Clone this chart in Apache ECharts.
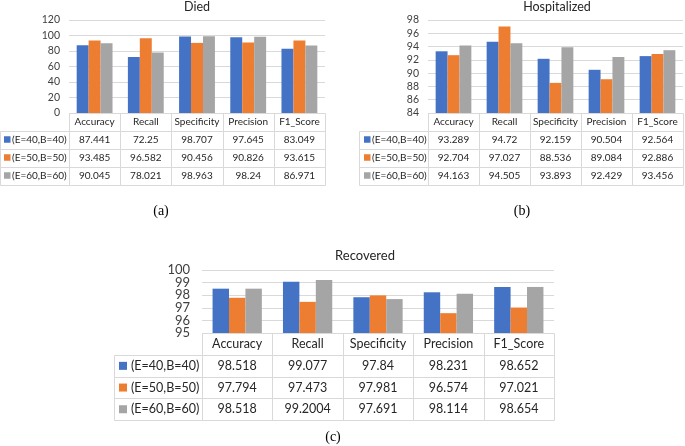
<!DOCTYPE html>
<html>
<head>
<meta charset="utf-8">
<script src="https://cdn.jsdelivr.net/npm/echarts@6/dist/echarts.min.js"></script>
<style>
  html, body { margin: 0; padding: 0; background: #fff; }
  #main { width: 685px; height: 446px; }
</style>
</head>
<body>
<div id="main"></div>
<script>
// data
var categories = ['Accuracy', 'Recall', 'Specificity', 'Precision', 'F1_Score'];
var configs = ['(E=40,B=40)', '(E=50,B=50)', '(E=60,B=60)'];
var titles = ['Died', 'Hospitalized', 'Recovered'];
var captions = ['(a)', '(b)', '(c)'];

var diedE40 = [87.441, 72.25, 98.707, 97.645, 83.049];
var diedE50 = [93.485, 96.582, 90.456, 90.826, 93.615];
var diedE60 = [90.045, 78.021, 98.963, 98.24, 86.971];

var hospE40 = [93.289, 94.72, 92.159, 90.504, 92.564];
var hospE50 = [92.704, 97.027, 88.536, 89.084, 92.886];
var hospE60 = [94.163, 94.505, 93.893, 92.429, 93.456];

var recE40 = [98.518, 99.077, 97.84, 98.231, 98.652];
var recE50 = [97.794, 97.473, 97.981, 96.574, 97.021];
var recE60 = [98.518, 99.2004, 97.691, 98.114, 98.654];

// [min, max, step] of each value axis
var diedAxis = [0, 120, 20];
var hospAxis = [84, 98, 2];
var recAxis = [95, 100, 1];

var panelData = [
    [diedE40, diedE50, diedE60],
    [hospE40, hospE50, hospE60],
    [recE40, recE50, recE60]
];
var panelAxis = [diedAxis, hospAxis, recAxis];

// layout / style
var colors = ['#4472C4', '#ED7D31', '#A5A5A5'];
var border = '#D9D9D9';
var textColor = '#262626';
var layout = [
    { left: 69, top: 20, width: 256, height: 93, legendLeft: 0, headH: 17.5, rowH: 18,
      font: 10, axisFont: 10.5, axisMargin: 9, titleFont: 12.5, titleX: 197, titleY: 0,
      sq: 6.5, sqX: 4, txtX: 12, capX: 161, capY: 211, tight: false },
    { left: 428, top: 20, width: 255, height: 93, legendLeft: 359, headH: 17.5, rowH: 18,
      font: 10, axisFont: 10.5, axisMargin: 9, titleFont: 12.5, titleX: 557, titleY: 0,
      sq: 6.5, sqX: 5, txtX: 13, capX: 522, capY: 211, tight: false },
    { left: 202, top: 270, width: 352, height: 63, legendLeft: 114, headH: 22, rowH: 21.7,
      font: 12.5, axisFont: 13, axisMargin: 12, titleFont: 13, titleX: 365, titleY: 249,
      sq: 8, sqX: 5, txtX: 17, capX: 333, capY: 437, tight: true }
];

function px(v) { return Math.round(v) + 0.5; }

var grids = [], xAxes = [], yAxes = [], extraY = [], series = [], titleList = [], graphics = [];

layout.forEach(function (L, p) {
    var ax = panelAxis[p];
    var labelStyle = { fontSize: L.axisFont, color: '#404040', fontFamily: 'Lato',
                       margin: L.axisMargin };
    grids.push({ left: L.left, top: L.top, width: L.width, height: L.height });
    xAxes.push({
        type: 'category', gridIndex: p, data: categories,
        axisLine: { show: false }, axisTick: { show: false },
        axisLabel: { margin: L.headH / 2, verticalAlign: 'middle', fontSize: L.font,
                     color: textColor, fontFamily: 'Lato', interval: 0 }
    });
    yAxes.push({
        type: 'value', gridIndex: p, min: ax[0], max: ax[1], interval: ax[2],
        axisLine: { show: false }, axisTick: { show: false },
        axisLabel: Object.assign({}, labelStyle,
            L.tight ? { showMinLabel: false, showMaxLabel: false } : {}),
        splitLine: { lineStyle: { color: border, width: 1 } }
    });
    if (L.tight) {
        // the labels are closer than their own height here: the end labels
        // go on a second axis so neither set hides the other
        extraY.push({
            type: 'value', gridIndex: p, min: ax[0], max: ax[1], interval: ax[1] - ax[0],
            position: 'left', axisLine: { show: false }, axisTick: { show: false },
            splitLine: { show: false }, axisLabel: labelStyle
        });
    }
    panelData[p].forEach(function (vals, s) {
        series.push({
            type: 'bar', name: configs[s], xAxisIndex: p, yAxisIndex: p,
            data: vals, barGap: 0, barCategoryGap: '30%',
            itemStyle: { color: colors[s] }
        });
    });
    titleList.push({
        text: titles[p], left: L.titleX, top: L.titleY, textAlign: 'center', padding: 0,
        textStyle: { fontSize: L.titleFont, fontWeight: 'normal', color: '#262626', fontFamily: 'Lato' }
    });

    // data table under the plot
    var bottom = L.top + L.height;
    var cw = L.width / categories.length;
    categories.forEach(function (c, i) {
        var x0 = px(L.left + i * cw), x1 = px(L.left + (i + 1) * cw);
        graphics.push({ type: 'rect', silent: true,
            shape: { x: x0, y: px(bottom), width: x1 - x0, height: Math.round(L.headH) },
            style: { fill: 'none', stroke: border, lineWidth: 1 } });
    });
    configs.forEach(function (name, r) {
        var y0 = bottom + L.headH + r * L.rowH;
        var y0p = px(y0), y1p = px(y0 + L.rowH);
        var lx0 = px(L.legendLeft), lx1 = px(L.left);
        graphics.push({ type: 'rect', silent: true,
            shape: { x: lx0, y: y0p, width: lx1 - lx0, height: y1p - y0p },
            style: { fill: 'none', stroke: border, lineWidth: 1 } });
        graphics.push({ type: 'rect', silent: true,
            shape: { x: L.legendLeft + L.sqX, y: y0 + L.rowH / 2 - L.sq / 2, width: L.sq, height: L.sq },
            style: { fill: colors[r] } });
        graphics.push({ type: 'text', silent: true,
            style: { x: L.legendLeft + L.txtX, y: y0 + L.rowH / 2, text: name,
                     fontSize: L.font, fontFamily: 'Lato', fill: textColor,
                     align: 'left', verticalAlign: 'middle' } });
        panelData[p][r].forEach(function (v, i) {
            var x0 = px(L.left + i * cw), x1 = px(L.left + (i + 1) * cw);
            graphics.push({ type: 'rect', silent: true,
                shape: { x: x0, y: y0p, width: x1 - x0, height: y1p - y0p },
                style: { fill: 'none', stroke: border, lineWidth: 1 } });
            graphics.push({ type: 'text', silent: true,
                style: { x: L.left + (i + 0.5) * cw, y: y0 + L.rowH / 2, text: String(v),
                         fontSize: L.font, fontFamily: 'Lato', fill: textColor,
                         align: 'center', verticalAlign: 'middle' } });
        });
    });
    graphics.push({ type: 'text', silent: true,
        style: { x: L.capX, y: L.capY, text: captions[p], fontSize: 14,
                 fontFamily: 'Liberation Serif', fill: '#000',
                 align: 'center', verticalAlign: 'middle' } });
});

var myChart = echarts.init(document.getElementById('main'));
myChart.setOption({
    animation: false,
    title: titleList,
    grid: grids,
    xAxis: xAxes,
    yAxis: yAxes.concat(extraY),
    series: series,
    graphic: graphics
});
</script>
</body>
</html>
